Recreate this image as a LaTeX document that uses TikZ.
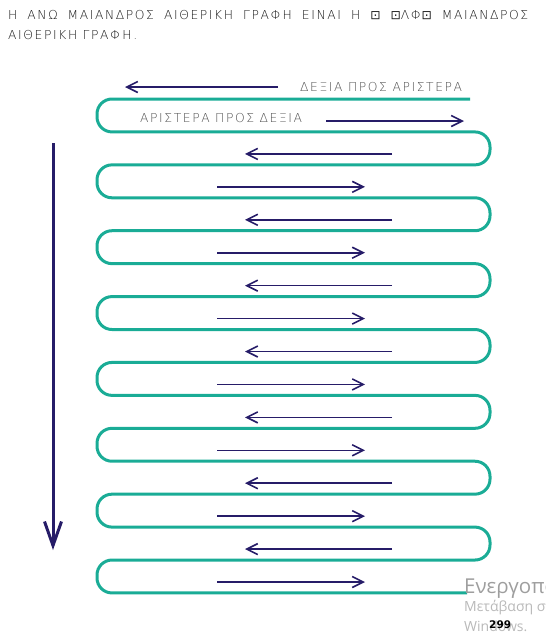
\documentclass[tikz,border=0pt]{standalone}
\usepackage{fontspec}
\usetikzlibrary{arrows.meta, positioning}
\newfontfamily\archaic[LetterSpace=13]{DejaVu Sans ExtraLight}
\newfontfamily\symfont{DejaVu Sans}
\newfontfamily\winfont{Open Sans}
\definecolor{meandergreen}{RGB}{26,172,150}
\definecolor{arrownavy}{RGB}{38,28,104}
\definecolor{labelgray}{RGB}{80,80,80}
\definecolor{wmgray}{RGB}{185,185,185}
\newcommand{\sqglyph}{{\symfont ⊡}}

\begin{document}
\begin{tikzpicture}[
  x=1pt, y=-1pt,
  meander/.style = {draw=meandergreen, line width=3pt, rounded corners=15pt},
  arr/.style = {draw=arrownavy, line width=1.6pt,
    -{Straight Barb[length=11pt, width=11pt]}},
  bigarr/.style = {draw=arrownavy, line width=3pt,
    -{Straight Barb[length=24pt, width=17pt]}},
  header/.style = {font=\archaic\fontsize{12.3}{20}\selectfont,
    text=black!90, align=left, inner sep=0pt},
  lbl/.style = {font=\archaic\fontsize{12.3}{14}\selectfont,
    text=labelgray, inner sep=0pt},
  wmark/.style = {font=\winfont, text=wmgray, inner sep=0pt, anchor=base west}
]
\useasboundingbox (0,0) rectangle (546,633);

% heading
\node[header, anchor=north west] (title) at (8,10)
  {\makebox[520pt][s]{Η ΑΝΩ ΜΑΙΑΝΔΡΟΣ ΑΙΘΕΡΙΚΗ ΓΡΑΦΗ ΕΙΝΑΙ Η \sqglyph{} \sqglyph{}ΛΦ\sqglyph{} ΜΑΙΑΝΔΡΟΣ}\\
   ΑΙΘΕΡΙΚΗ ΓΡΑΦΗ.};

% meander line
\draw[meander] (470,99)
  \foreach \i in {0,...,6} {
    -- (97,{99+2*\i*32.93}) -- (97,{99+(2*\i+1)*32.93})
    -- (490,{99+(2*\i+1)*32.93}) -- (490,{99+(2*\i+2)*32.93})
  }
  -- (97,{99+14*32.93}) -- (97,{99+15*32.93}) -- (467,{99+15*32.93});

% first two rows with labels
\coordinate (rtlTail) at (278,87);
\coordinate (rtlHead) at (125,87);
\node[lbl, right=22pt of rtlTail, anchor=west] (rtl) {ΔΕΞΙΑ ΠΡΟΣ ΑΡΙΣΤΕΡΑ};
\draw[arr] (rtlTail) -- (rtlHead);

\node[lbl, anchor=west] (ltr) at (140,118) {ΑΡΙΣΤΕΡΑ ΠΡΟΣ ΔΕΞΙΑ};
\coordinate (ltrTail) at (326,121);
\coordinate (ltrHead) at (464,121);
\draw[arr] (ltrTail) -- (ltrHead);

% arrows inside the meander
\foreach \k in {1,3,...,13} {
  \coordinate (tail\k) at (392,{99+\k*32.93+22});
  \coordinate (head\k) at (245,{99+\k*32.93+22});
  \draw[arr] (tail\k) -- (head\k);
}
\foreach \k in {2,4,...,14} {
  \coordinate (tail\k) at (217,{99+\k*32.93+22});
  \coordinate (head\k) at (365,{99+\k*32.93+22});
  \draw[arr] (tail\k) -- (head\k);
}

% reading direction
\coordinate (downTop) at (53,143);
\coordinate (downEnd) at (53,550);
\draw[bigarr] (downTop) -- (downEnd);

% screen overlay
\begin{scope}
\clip (0,0) rectangle (546,633);
\node[wmark, font=\winfont\fontsize{20.5}{22}\selectfont, text=black!38] (wm1) at (464,593) {Ενεργοποίηση των Windows};
\node[wmark, font=\winfont\fontsize{14}{16}\selectfont] (wm2) at (464,611) {Μετάβαση στις Ρυθμίσεις για ενεργοποίηση των};
\node[wmark, font=\winfont\fontsize{14}{16}\selectfont] (wm3) at (464,631) {Windows.};
\node[inner sep=0pt, anchor=base west, font=\symfont\bfseries\fontsize{10.5}{12}\selectfont] (page) at (489,628) {299};
\end{scope}
\end{tikzpicture}
\end{document}
